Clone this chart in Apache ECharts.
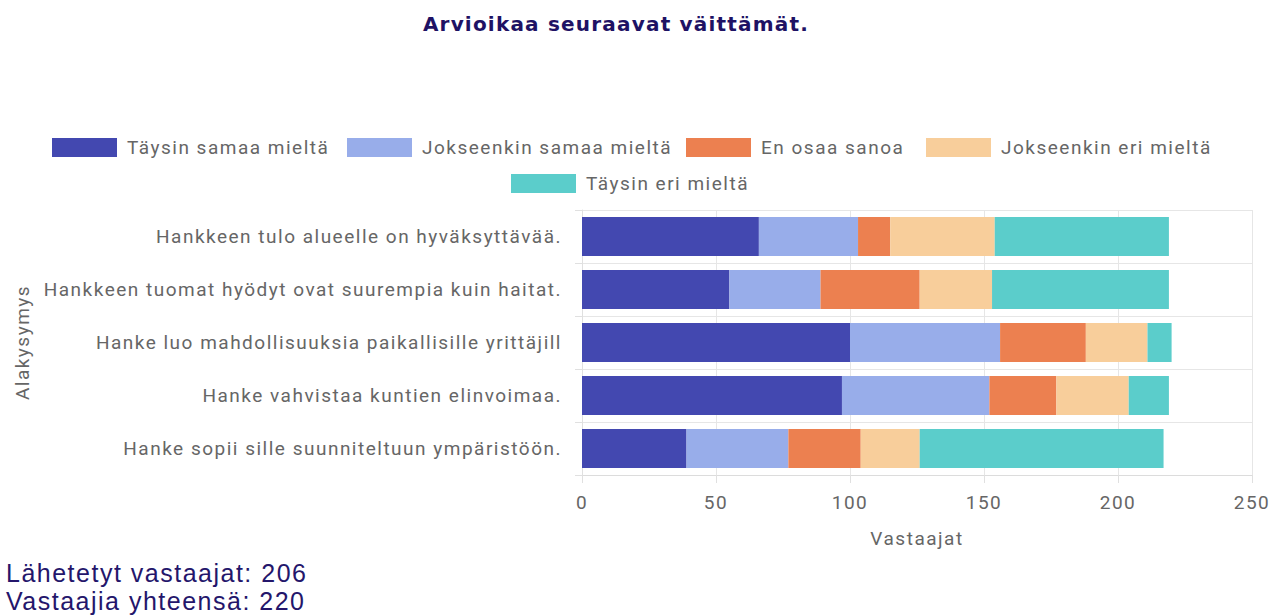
<!DOCTYPE html>
<html>
<head>
<meta charset="utf-8">
<script src="https://cdn.jsdelivr.net/npm/echarts@6/dist/echarts.min.js"></script>
<style>
  html, body { margin: 0; padding: 0; background: #fff; }
  #main { width: 1272px; height: 616px; }
  /* the reference text is set wide */
  #main text { letter-spacing: 1.5px; }
  #main text[style*="bold"] { letter-spacing: 1.2px; }
</style>
</head>
<body>
<div id="main"></div>
<script>
    var myChart = echarts.init(document.getElementById('main'), null, { renderer: 'svg' });

    var questions = [
        'Hankkeen tulo alueelle on hyväksyttävää.',
        'Hankkeen tuomat hyödyt ovat suurempia kuin haitat.',
        'Hanke luo mahdollisuuksia paikallisille yrittäjill',
        'Hanke vahvistaa kuntien elinvoimaa.',
        'Hanke sopii sille suunniteltuun ympäristöön.'
    ];
    var answerNames = ['Täysin samaa mieltä', 'Jokseenkin samaa mieltä', 'En osaa sanoa', 'Jokseenkin eri mieltä', 'Täysin eri mieltä'];
    var answerColors = ['#4348b0', '#98adea', '#ec8050', '#f8ce9b', '#5bcdcb'];

    // one array per answer, in question order
    var taysinSamaa = [66, 55, 100, 97, 39];
    var jokseenkinSamaa = [37, 34, 56, 55, 38];
    var enOsaa = [12, 37, 32, 25, 27];
    var jokseenkinEri = [39, 27, 23, 27, 22];
    var taysinEri = [65, 66, 9, 15, 91];
    var values = [taysinSamaa, jokseenkinSamaa, enOsaa, jokseenkinEri, taysinEri];

    var sent = 206;
    var total = 220;

    var font = 'Roboto, sans-serif';
    var grey = '#666';

    // legend boxes placed one by one, the wide text would break the auto layout
    var legendPos = [[52, 138], [347, 138], [686, 138], [926, 138], [511, 174]];

    var series = answerNames.map(function (name, i) {
        return {
            name: name,
            type: 'bar',
            stack: 'all',
            barCategoryGap: '26%',
            itemStyle: { color: answerColors[i] },
            emphasis: { disabled: true },
            data: values[i]
        };
    });

    var legends = answerNames.map(function (name, i) {
        return {
            left: legendPos[i][0],
            top: legendPos[i][1],
            padding: 0,
            itemWidth: 65,
            itemHeight: 19,
            icon: 'rect',
            textStyle: { color: grey, fontSize: 19, fontFamily: font, padding: [0, 0, 0, 5] },
            data: [name]
        };
    });

    var option = {
        animation: false,
        legend: legends,
        grid: {
            left: 582,
            right: 20,
            top: 210,
            bottom: 141
        },
        xAxis: {
            type: 'value',
            min: 0,
            max: 250,
            interval: 50,
            name: 'Vastaajat',
            nameLocation: 'middle',
            nameGap: 54,
            nameTextStyle: { color: grey, fontSize: 19, fontFamily: font },
            axisLine: { show: true, lineStyle: { color: '#dcdcdc' } },
            axisTick: { show: true, length: 8, lineStyle: { color: '#e0e0e0' } },
            axisLabel: { color: grey, fontSize: 19, fontFamily: font, margin: 18 },
            splitLine: { show: true, lineStyle: { color: '#e6e6e6' } }
        },
        yAxis: {
            type: 'category',
            inverse: true,
            data: questions,
            name: 'Alakysymys',
            nameLocation: 'middle',
            nameGap: 550,
            nameTextStyle: { color: grey, fontSize: 19, fontFamily: font },
            axisLine: { show: true, lineStyle: { color: '#e0e0e0' } },
            axisTick: { show: true, length: 7, lineStyle: { color: '#e0e0e0' } },
            axisLabel: { color: grey, fontSize: 19, fontFamily: font, margin: 20 },
            splitLine: { show: true, lineStyle: { color: '#e6e6e6' } }
        },
        graphic: [{
            type: 'text',
            x: 616,
            y: 24,
            style: {
                text: 'Arvioikaa seuraavat väittämät.',
                fill: '#1e1264',
                font: 'bold 20px DejaVu Sans, sans-serif',
                align: 'center',
                verticalAlign: 'middle'
            }
        }, {
            type: 'text',
            x: 6,
            y: 573,
            style: {
                text: 'Lähetetyt vastaajat: ' + sent,
                fill: '#24166b',
                font: '25px Arial, Liberation Sans, sans-serif',
                verticalAlign: 'middle'
            }
        }, {
            type: 'text',
            x: 6,
            y: 601,
            style: {
                text: 'Vastaajia yhteensä: ' + total,
                fill: '#24166b',
                font: '25px Arial, Liberation Sans, sans-serif',
                verticalAlign: 'middle'
            }
        }],
        series: series
    };

    myChart.setOption(option);
</script>
</body>
</html>
